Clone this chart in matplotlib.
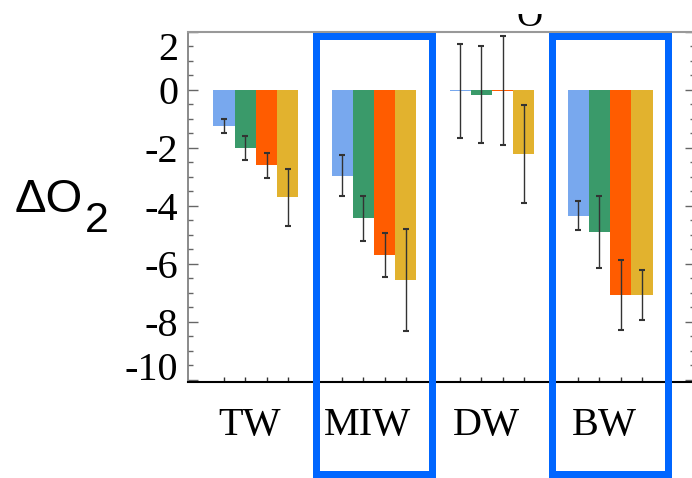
import matplotlib
matplotlib.use("Agg")
import matplotlib.pyplot as plt
import numpy as np
from matplotlib.patches import Rectangle
from matplotlib.ticker import MultipleLocator
from matplotlib.transforms import blended_transform_factory, ScaledTranslation, Bbox

# ---- data ----
groups = ["TW", "MIW", "DW", "BW"]
series_colors = ["#78A8EE", "#3A9A6A", "#FF5C00", "#E2B22E"]
s1 = [-1.24, -2.95, -0.02, -4.34]
s2 = [-2.00, -4.43, -0.17, -4.90]
s3 = [-2.59, -5.69, -0.02, -7.07]
s4 = [-3.70, -6.55, -2.22, -7.07]
e1 = [0.24, 0.72, 1.62, 0.50]
e2 = [0.43, 0.79, 1.67, 1.23]
e3 = [0.43, 0.76, 1.88, 1.22]
e4 = [0.98, 1.75, 1.69, 0.85]
yticks = [2, 0, -2, -4, -6, -8, -10]
ytick_labels = ["2", "0", "-2", "-4", "-6", "-8", "-10"]
highlighted = ["MIW", "BW"]

W, H = 692, 478
fig = plt.figure(figsize=(W / 100, H / 100), dpi=100)
ax = fig.add_axes([188 / W, (H - 382) / H, (695 - 188) / W, (382 - 32) / H])

serif = ["Liberation Serif", "DejaVu Serif"]
sans = ["Liberation Sans", "DejaVu Sans"]

bw = 0.18
xg = np.arange(len(groups))
for i, (vals, errs, col) in enumerate(zip([s1, s2, s3, s4], [e1, e2, e3, e4], series_colors)):
    x = xg + (i - 1.5) * bw
    ax.bar(x, vals, bw, color=col, linewidth=0, zorder=2)
    ax.errorbar(x, vals, yerr=errs, fmt="none", ecolor="#333333", elinewidth=1,
                capsize=2.5, capthick=1.5, zorder=3)

ax.set_xlim(-0.576, 3.72)
ax.set_ylim(-10.07, 2)

ax.set_yticks(yticks)
ax.set_yticklabels(ytick_labels, family=serif, fontsize=29)
ax.yaxis.set_minor_locator(MultipleLocator(0.5))
ax.tick_params(axis="y", which="major", direction="in", length=7.2, width=1,
               color="#666666", left=True, right=True, pad=7)
ax.tick_params(axis="y", which="minor", direction="in", length=3.6, width=1,
               color="#666666", left=True, right=True)

ax.set_xticks(xg)
ax.set_xticklabels(groups, family=serif, fontsize=29)
ax.set_xticks(np.concatenate([xg + (i - 1.5) * bw for i in range(4)]), minor=True)
ax.tick_params(axis="x", which="major", length=0, pad=18)
ax.tick_params(axis="x", which="minor", direction="in", length=3.6, width=1,
               color="#333333", top=False)
off = ScaledTranslation(-6 / 100, 0, fig.dpi_scale_trans)
for lab in ax.get_xticklabels():
    lab.set_transform(lab.get_transform() + off)

# end labels kept inside the axis range
ylabs = ax.get_yticklabels()
ylabs[0].set_verticalalignment("top")
ylabs[-1].set_verticalalignment("baseline")

ax.spines["left"].set_color("#777777")
ax.spines["left"].set_linewidth(1.2)
ax.spines["right"].set_color("#777777")
ax.spines["top"].set_color("#999999")
ax.spines["top"].set_linewidth(1.5)
ax.spines["bottom"].set_color("black")
ax.spines["bottom"].set_linewidth(1.5)

# y label
fig.text(15 / W, 1 - 212 / H, "ΔO", family=sans, fontsize=34, ha="left", va="baseline")
fig.text(85 / W, 1 - 232 / H, "2", family=sans, fontsize=31, ha="left", va="baseline")

# partially visible title glyph at top
t = fig.text(530 / W, 1 - 26 / H, "O", family=serif, fontsize=26, ha="center", va="baseline")
t.set_clip_box(Bbox([[505, H - 29], [560, H - 14]]))
t.set_clip_on(True)

# highlight boxes
trans = blended_transform_factory(ax.transData, fig.transFigure)
for g in highlighted:
    gi = groups.index(g)
    r = Rectangle((gi - 0.49, 4 / H), 0.98, (474 - 36) / H, transform=trans,
                  fill=False, edgecolor="#0066FF", linewidth=5.04, clip_on=False,
                  zorder=10, joinstyle="miter")
    fig.add_artist(r)

fig.savefig("out.png", dpi=100)
